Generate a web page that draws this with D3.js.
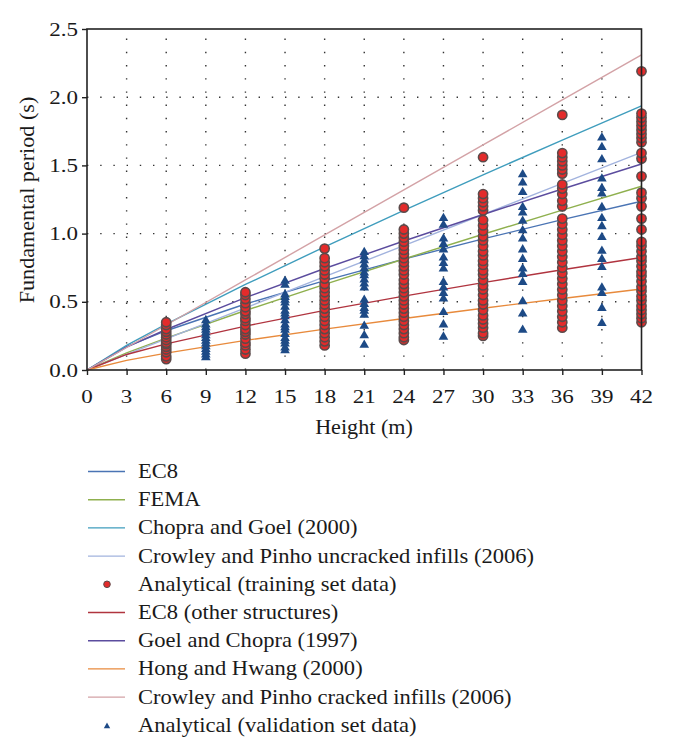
<!DOCTYPE html>
<html><head><meta charset="utf-8">
<script src="https://cdn.jsdelivr.net/npm/d3@7"></script>
<style>body{margin:0;background:#fff}svg{display:block}text{font-family:"Liberation Serif","Times New Roman",serif;fill:#1a1a1a}</style>
</head><body><svg id="c" width="676" height="746"></svg>
<script>
// ---------- data ----------
const xTicks = [0,3,6,9,12,15,18,21,24,27,30,33,36,39,42];
const yTicks = [0,0.5,1.0,1.5,2.0,2.5];
const lineH = [0,3,6,12,18,24,30,36,42];
const ec8      = [0,0.171,0.288,0.484,0.655,0.813,0.961,1.102,1.237];
const fema     = [0,0.125,0.234,0.436,0.628,0.814,0.995,1.172,1.347];
const chopraGoel2000 = [0,0.180,0.336,0.627,0.903,1.170,1.431,1.686,1.936];
const cpUncracked = [0,0.114,0.228,0.456,0.684,0.912,1.140,1.368,1.596];
const ec8Other = [0,0.114,0.192,0.322,0.437,0.542,0.641,0.735,0.825];
const goelChopra1997 = [0,0.167,0.297,0.530,0.744,0.946,1.140,1.327,1.510];
const hongHwang = [0,0.071,0.124,0.217,0.300,0.378,0.453,0.524,0.594];
const cpCracked = [0,0.165,0.330,0.660,0.990,1.320,1.650,1.980,2.310];

const trainH = [6,12,18,24,30,36,42];
const trainT = [
  [0.08,0.10,0.13,0.15,0.17,0.19,0.20,0.22,0.24,0.26,0.28,0.30,0.33,0.35],
  [0.12,0.15,0.18,0.20,0.23,0.26,0.28,0.30,0.33,0.36,0.38,0.41,0.43,0.46,0.49,0.52,0.55,0.57],
  [0.18,0.21,0.24,0.27,0.30,0.33,0.36,0.39,0.42,0.45,0.48,0.51,0.54,0.57,0.60,0.63,0.67,0.70,0.73,0.76,0.79,0.82,0.89],
  [0.22,0.24,0.27,0.30,0.33,0.36,0.39,0.42,0.45,0.48,0.51,0.54,0.57,0.60,0.63,0.66,0.70,0.73,0.76,0.79,0.82,0.85,0.88,0.91,0.94,0.97,1.00,1.03,1.19],
  [0.25,0.27,0.31,0.34,0.37,0.40,0.44,0.48,0.51,0.55,0.59,0.62,0.66,0.70,0.73,0.77,0.80,0.84,0.87,0.91,0.95,0.98,1.02,1.06,1.10,1.17,1.20,1.23,1.26,1.29,1.56],
  [0.31,0.35,0.39,0.43,0.47,0.51,0.55,0.59,0.63,0.67,0.71,0.75,0.79,0.83,0.87,0.91,0.95,0.99,1.03,1.07,1.11,1.20,1.24,1.29,1.33,1.36,1.44,1.47,1.50,1.53,1.56,1.59,1.87],
  [0.35,0.38,0.41,0.44,0.47,0.51,0.54,0.58,0.61,0.65,0.69,0.72,0.76,0.80,0.83,0.87,0.91,0.94,1.03,1.11,1.20,1.26,1.30,1.42,1.55,1.59,1.67,1.70,1.73,1.76,1.79,1.82,1.85,1.88,2.19]
];
const valH = [9,15,21,27,33,39];
const valT = [
  [0.10,0.12,0.14,0.16,0.18,0.20,0.22,0.24,0.26,0.28,0.30,0.32,0.34,0.37],
  [0.15,0.17,0.20,0.22,0.24,0.27,0.30,0.32,0.34,0.37,0.40,0.42,0.44,0.47,0.50,0.52,0.54,0.56,0.63,0.66],
  [0.19,0.26,0.33,0.41,0.44,0.46,0.49,0.52,0.61,0.64,0.67,0.70,0.72,0.75,0.78,0.81,0.84,0.87],
  [0.25,0.34,0.43,0.53,0.57,0.61,0.65,0.75,0.79,0.83,0.89,0.93,0.97,1.07,1.12],
  [0.30,0.42,0.51,0.65,0.71,0.75,0.82,0.89,0.97,1.03,1.10,1.16,1.20,1.31,1.38,1.44],
  [0.35,0.46,0.57,0.61,0.76,0.82,0.88,0.98,1.06,1.12,1.20,1.30,1.34,1.41,1.55,1.64,1.71]
];

const lineSeries = [
  {name:"EC8", values:ec8, color:"#4a74b4"},
  {name:"FEMA", values:fema, color:"#8fb04e"},
  {name:"Chopra and Goel (2000)", values:chopraGoel2000, color:"#3f9dbd"},
  {name:"Crowley and Pinho uncracked infills (2006)", values:cpUncracked, color:"#a2b3de"},
  {name:"EC8 (other structures)", values:ec8Other, color:"#b0343f"},
  {name:"Goel and Chopra (1997)", values:goelChopra1997, color:"#5b4c9e"},
  {name:"Hong and Hwang (2000)", values:hongHwang, color:"#e88a3c"},
  {name:"Crowley and Pinho cracked infills (2006)", values:cpCracked, color:"#d3a2a6"}
];
const legendOrder = ["EC8","FEMA","Chopra and Goel (2000)","Crowley and Pinho uncracked infills (2006)","Analytical (training set data)","EC8 (other structures)","Goel and Chopra (1997)","Hong and Hwang (2000)","Crowley and Pinho cracked infills (2006)","Analytical (validation set data)"];

// ---------- drawing ----------
const svg = d3.select("#c");
const L=87, R=641.5, T=29, B=370;
const x = d3.scaleLinear().domain([0,42]).range([L,R]);
const y = d3.scaleLinear().domain([0,2.5]).range([B,T]);
const RED="#e32b2b", RSTROKE="#5b4a4a", BLUE="#1d4a86";

function txt(g, s, px, py, size, anchor, sx, rot){
  return g.append("text").text(s)
    .attr("transform",`translate(${px},${py})`+(rot?` rotate(${rot})`:"")+` scale(${sx},1)`)
    .attr("text-anchor",anchor).style("font-size",size+"px");
}

// grid
const grid = svg.append("g").attr("stroke","#333").attr("stroke-width",1.4).attr("stroke-dasharray","1.4,11.8");
xTicks.filter(v=>v>0&&v<42).forEach(v=>grid.append("line").attr("x1",x(v)).attr("x2",x(v)).attr("y1",B).attr("y2",T));
yTicks.filter(v=>v>0&&v<2.5).forEach(v=>grid.append("line").attr("x1",L).attr("x2",R).attr("y1",y(v)).attr("y2",y(v)));

// lines
const lg = d3.line().x((d,i)=>x(lineH[i])).y(d=>y(d));
lineSeries.forEach(s=>{
  svg.append("path").attr("d",lg(s.values)).attr("fill","none").attr("stroke",s.color).attr("stroke-width",1.4);
});

// markers
const tri = d3.symbol().type(d3.symbolTriangle).size(40);
valH.forEach((h,i)=>valT[i].forEach(v=>{
  svg.append("path").attr("d",tri()).attr("transform",`translate(${x(h)},${y(v)+1})`).attr("fill",BLUE);
}));
trainH.forEach((h,i)=>trainT[i].forEach(v=>{
  svg.append("circle").attr("cx",x(h)).attr("cy",y(v)).attr("r",4.6).attr("fill",RED).attr("stroke",RSTROKE).attr("stroke-width",1.6);
}));

// frame
svg.append("rect").attr("x",L).attr("y",T).attr("width",R-L).attr("height",B-T).attr("fill","none").attr("stroke","#222").attr("stroke-width",1.6);

// axes
const ax = svg.append("g").attr("transform",`translate(0,${B})`).call(d3.axisBottom(x).tickValues(xTicks).tickSize(5).tickFormat(d3.format("d")));
ax.select(".domain").remove();
ax.selectAll("line").attr("stroke","#222").attr("stroke-width",1.4);
ax.selectAll("text").remove();
xTicks.forEach(v=>txt(svg, String(v), x(v), 403, 19.5, "middle", 1.18));
const ay = svg.append("g").attr("transform",`translate(${L},0)`).call(d3.axisLeft(y).tickValues(yTicks).tickSize(5));
ay.select(".domain").remove();
ay.selectAll("line").attr("stroke","#222").attr("stroke-width",1.4);
ay.selectAll("text").remove();
yTicks.forEach(v=>txt(svg, d3.format(".1f")(v), 78, y(v)+6.5, 19.5, "end", 1.18));

txt(svg,"Height (m)", 364, 434, 20.5, "middle", 1.08);
txt(svg,"Fundamental period (s)", 34, 200, 20.5, "middle", 1.08, -90);

// legend
const lgG = svg.append("g");
legendOrder.forEach((name,i)=>{
  const by = 478 + i*28.2, cy = by - 6.5;
  const s = lineSeries.find(d=>d.name===name);
  if (s) {
    lgG.append("line").attr("x1",88).attr("x2",125).attr("y1",cy).attr("y2",cy).attr("stroke",s.color).attr("stroke-width",1.4);
  } else if (name.includes("training")) {
    lgG.append("circle").attr("cx",107).attr("cy",cy).attr("r",3.3).attr("fill",RED).attr("stroke",RSTROKE).attr("stroke-width",1);
  } else {
    lgG.append("path").attr("d",d3.symbol().type(d3.symbolTriangle).size(18)()).attr("transform",`translate(${107},${cy+1})`).attr("fill",BLUE);
  }
  txt(lgG, name, 138, by, 20.5, "start", 1.1);
});
</script></body></html>
